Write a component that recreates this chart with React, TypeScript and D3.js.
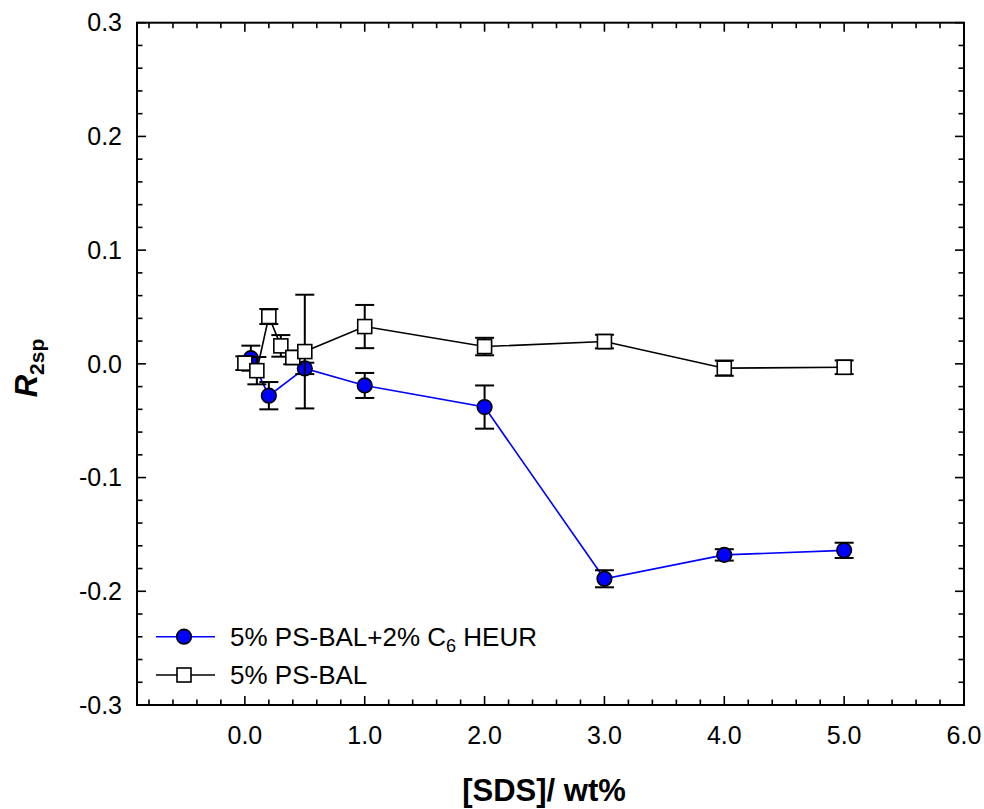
import React from "react";
import * as d3 from "d3";

const heurX = [0.05, 0.2, 0.5, 1.0, 2.0, 3.0, 4.0, 5.0];
const heurY = [0.005, -0.028, -0.004, -0.019, -0.038, -0.189, -0.168, -0.164];
const heurErr = [0.011, 0.012, 0.005, 0.011, 0.019, 0.0075, 0.005, 0.0067];

const balX = [0.0, 0.1, 0.2, 0.3, 0.4, 0.5, 1.0, 2.0, 3.0, 4.0, 5.0];
const balY = [0.0006, -0.006, 0.0416, 0.0158, 0.0056, 0.0108, 0.0328, 0.0152, 0.0196, -0.0038, -0.003];
const balErr = [0.006, 0.012, 0.0066, 0.0095, 0.006, 0.05, 0.019, 0.0077, 0.006, 0.0067, 0.006];

const xTicks = [0, 1, 2, 3, 4, 5, 6];
const yTicks = [-0.3, -0.2, -0.1, 0.0, 0.1, 0.2, 0.3];

const legendLabels = ["5% PS-BAL+2% C", "5% PS-BAL"];

const W = 984, H = 809;
const L = 137, R = 964, T = 22.7, B = 705;
const FONT = "'Liberation Sans', Arial, Helvetica, sans-serif";

export default function App() {
  const x = d3.scaleLinear().domain([-0.9, 6.0]).range([L, R]);
  const y = d3.scaleLinear().domain([-0.3, 0.3]).range([B, T]);

  const xMinor = d3.range(-0.8, 6.0001, 0.2).map((v) => +v.toFixed(2));
  const yMinor = d3.range(-0.3, 0.3001, 0.02).map((v) => +v.toFixed(3));
  const isMajX = (v: number) => Math.abs(v - Math.round(v)) < 1e-6 && v >= 0;
  const isMajY = (v: number) => Math.abs(v * 10 - Math.round(v * 10)) < 1e-6;
  const MAJ = 9, MIN = 5.5;

  const line = d3
    .line<[number, number]>()
    .x((d) => x(d[0]))
    .y((d) => y(d[1]));

  const heurPts: [number, number][] = heurX.map((v, i) => [v, heurY[i]]);
  const balPts: [number, number][] = balX.map((v, i) => [v, balY[i]]);
  const cap = 9.5;
  const sq = 14;

  const errBars = (xs: number[], ys: number[], es: number[]) =>
    xs.map((xv, i) => {
      const cx = x(xv);
      const y1 = y(ys[i] + es[i]);
      const y2 = y(ys[i] - es[i]);
      return (
        <g key={i} stroke="#000" strokeWidth={2}>
          <line x1={cx} x2={cx} y1={y1} y2={y2} />
          <line x1={cx - cap} x2={cx + cap} y1={y1} y2={y1} />
          <line x1={cx - cap} x2={cx + cap} y1={y2} y2={y2} />
        </g>
      );
    });

  return (
    <svg
      width={W}
      height={H}
      style={{ position: "absolute", left: 0, top: 0, background: "#fff" }}
      fontFamily={FONT}
    >
      <rect x={0} y={0} width={W} height={H} fill="#fff" />
      {/* ticks */}
      <g stroke="#000" strokeWidth={1.6}>
        {xMinor.map((v, i) => {
          const len = isMajX(v) ? MAJ : MIN;
          return (
            <g key={"xt" + i}>
              <line x1={x(v)} x2={x(v)} y1={B} y2={B - len} />
              <line x1={x(v)} x2={x(v)} y1={T} y2={T + len} />
            </g>
          );
        })}
        {yMinor.map((v, i) => {
          const len = isMajY(v) ? MAJ : MIN;
          return (
            <g key={"yt" + i}>
              <line x1={L} x2={L + len} y1={y(v)} y2={y(v)} />
              <line x1={R} x2={R - len} y1={y(v)} y2={y(v)} />
            </g>
          );
        })}
      </g>
      <rect x={L} y={T} width={R - L} height={B - T} fill="none" stroke="#000" strokeWidth={2} />

      {/* tick labels */}
      {xTicks.map((v) => (
        <text key={"xl" + v} x={x(v)} y={743.5} textAnchor="middle" fontSize={25} fill="#000">
          {v.toFixed(1)}
        </text>
      ))}
      {yTicks.map((v) => (
        <text key={"yl" + v} x={122} y={y(v) + 8.7} textAnchor="end" fontSize={25} fill="#000">
          {v === 0 ? "0.0" : v.toFixed(1)}
        </text>
      ))}

      {/* axis titles */}
      <text x={544} y={801} textAnchor="middle" fontSize={31} fontWeight="bold" fill="#000">
        [SDS]/ wt%
      </text>
      <text transform="translate(37,368) rotate(-90)" textAnchor="middle" fontWeight="bold" fill="#000">
        <tspan fontSize={31} fontStyle="italic">R</tspan>
        <tspan fontSize={21} dy={7}>2sp</tspan>
      </text>

      {/* blue series */}
      <path d={line(heurPts) || ""} fill="none" stroke="#0000ff" strokeWidth={1.6} />
      {errBars(heurX, heurY, heurErr)}
      {heurPts.map((d, i) => (
        <circle key={"c" + i} cx={x(d[0])} cy={y(d[1])} r={7.3} fill="#0000ff" stroke="#000" strokeWidth={1.6} />
      ))}

      {/* black series */}
      <path d={line(balPts) || ""} fill="none" stroke="#000" strokeWidth={1.6} />
      {errBars(balX, balY, balErr)}
      {balPts.map((d, i) => (
        <rect
          key={"s" + i}
          x={x(d[0]) - sq / 2}
          y={y(d[1]) - sq / 2}
          width={sq}
          height={sq}
          fill="#fff"
          stroke="#000"
          strokeWidth={1.6}
        />
      ))}

      {/* legend */}
      <line x1={156} x2={215} y1={636.7} y2={636.7} stroke="#0000ff" strokeWidth={1.6} />
      <circle cx={184} cy={636.7} r={7.3} fill="#0000ff" stroke="#000" strokeWidth={1.6} />
      <text x={230} y={645.8} fontSize={26} fill="#000">
        {legendLabels[0]}
        <tspan fontSize={18} dy={6}>6</tspan>
        <tspan dy={-6}> HEUR</tspan>
      </text>
      <line x1={156} x2={215} y1={675} y2={675} stroke="#000" strokeWidth={1.6} />
      <rect x={184 - 7} y={675 - 7} width={14} height={14} fill="#fff" stroke="#000" strokeWidth={1.6} />
      <text x={230} y={684.2} fontSize={26} fill="#000">
        {legendLabels[1]}
      </text>
    </svg>
  );
}
